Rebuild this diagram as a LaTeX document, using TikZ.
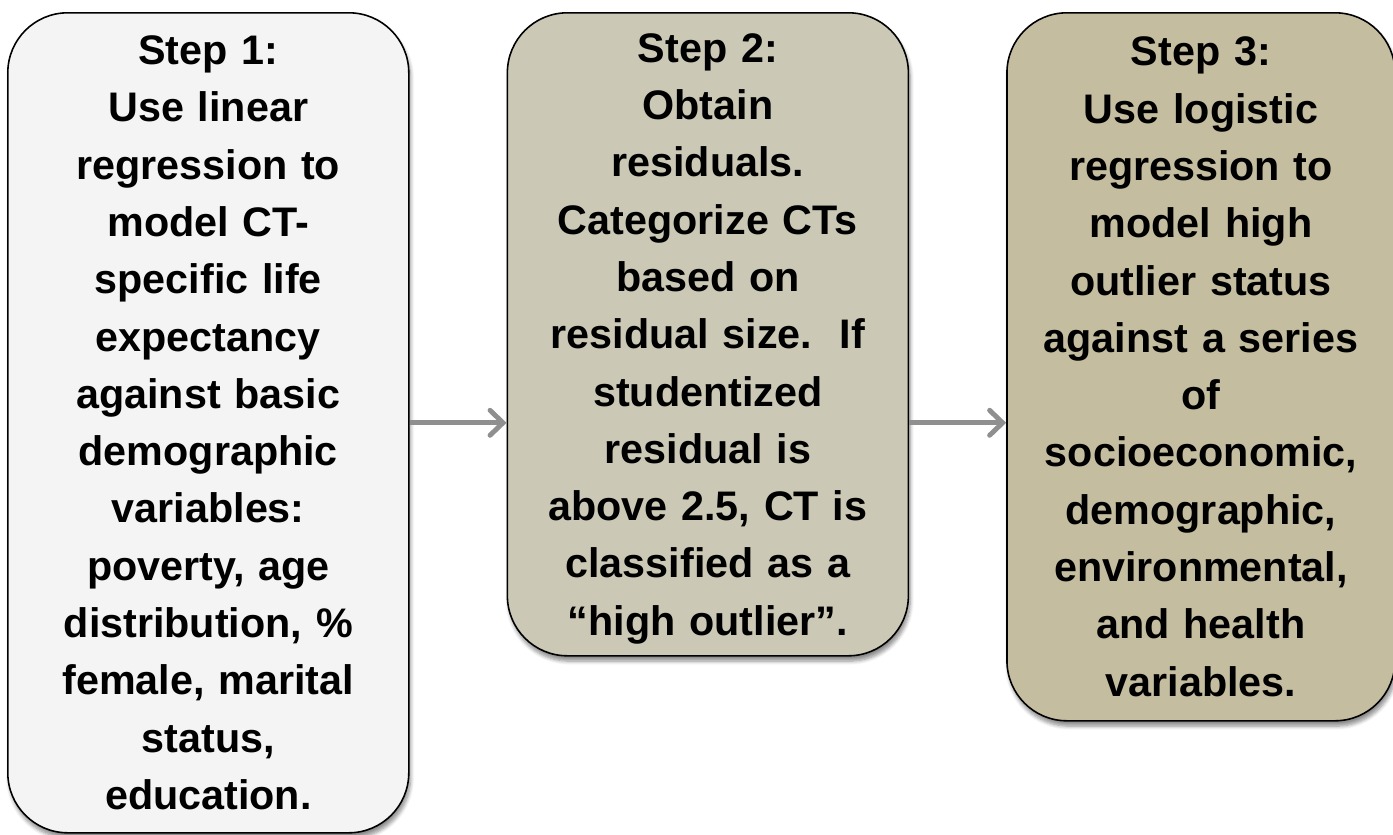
\documentclass[tikz,border=0pt]{standalone}
\usepackage{fontspec}
\setmainfont{Liberation Sans}
\usetikzlibrary{positioning,arrows.meta,shadows.blur}

\definecolor{stepone}{HTML}{F4F4F4}
\definecolor{steptwo}{HTML}{CBC8B6}
\definecolor{stepthree}{HTML}{C4BD9F}
\definecolor{flowgray}{HTML}{8F8F8F}

\tikzset{
  stepbox/.style={draw=black, line width=0.9pt, rectangle, rounded corners=1.2cm,
    inner sep=0pt, align=center, text width=7.6cm,
    font=\fontsize{23.5}{32.6}\selectfont\bfseries,
    blur shadow={shadow xshift=1pt, shadow yshift=-3pt, shadow opacity=45, shadow blur steps=6}},
  flow/.style={draw=flowgray, line width=2.8pt, -{Straight Barb[length=0.26cm, width=0.5cm, line cap=round]}}
}

\begin{document}
\begin{tikzpicture}
\useasboundingbox (0,0) rectangle (27.86,-16.68);

% Step 1
\node[stepbox, fill=stepone, minimum width=8.02cm, minimum height=16.4cm, anchor=north west] (lin) at (0.14,-0.24)
  {Step 1:\\ Use linear\\ regression to\\ model CT-\\ specific life\\ expectancy\\ against basic\\ demographic\\ variables:\\ poverty, age\\ distribution, \%\\ female, marital\\ status,\\ education.};

% Step 2
\node[stepbox, fill=steptwo, minimum width=8.02cm, minimum height=12.86cm,
  right=1.94cm of lin.north east, anchor=north west] (resid)
  {Step 2:\\ Obtain\\ residuals.\\ Categorize CTs\\ based on\\ residual size.\ \ If\\ studentized\\ residual is\\ above 2.5, CT is\\ classified as a\\ \smash{“high outlier”.}};

% Step 3
\node[stepbox, fill=stepthree, minimum width=7.76cm, minimum height=14.16cm, text width=7.4cm,
  right=1.94cm of resid.north east, anchor=north west] (logit)
  {Step 3:\\ Use logistic\\ regression to\\ model high\\ outlier status\\ against a series\\ of\\ socioeconomic,\\ demographic,\\ environmental,\\ and health\\ variables.};

% arrows
\draw[flow] (lin.east) -- (lin.east -| resid.west);
\draw[flow] (lin.east -| resid.east) -- (lin.east -| logit.west);
\end{tikzpicture}
\end{document}
